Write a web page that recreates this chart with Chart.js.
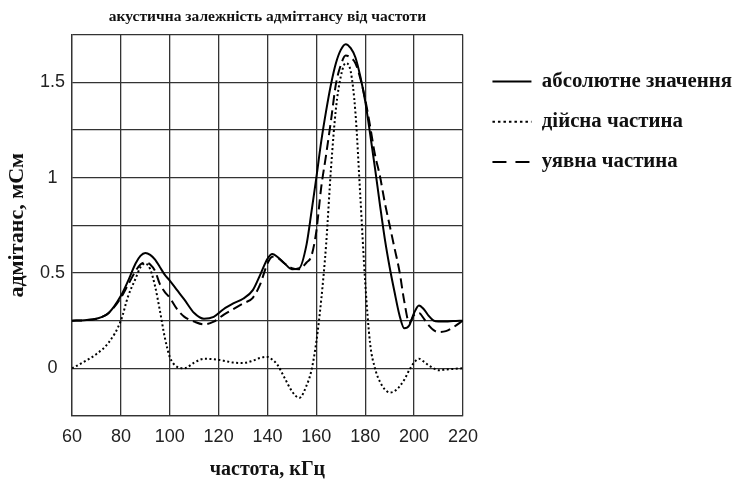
<!DOCTYPE html>
<html>
<head>
<meta charset="utf-8">
<script src="https://cdn.jsdelivr.net/npm/chart.js@4/dist/chart.umd.min.js"></script>
<style>
  body { margin: 0; background: #fff; }
</style>
</head>
<body>
<canvas id="chart" width="735" height="480"></canvas>
<script>

// frequency points, kHz
var freq = [60, 65, 70, 75, 80, 83, 86, 88, 90, 92, 94, 96, 98, 100, 103, 106, 110, 114, 118, 122,
	126, 130, 134, 137, 140, 142, 144, 147, 150, 153, 156, 158, 160, 162, 164, 166, 168, 170, 172, 174,
	176, 178, 180, 182, 184, 186, 188, 190, 192, 194, 196, 198, 200, 202, 204, 206, 208, 210, 213, 216, 220];

// абсолютне значення
var absValues = [0.25, 0.252, 0.26, 0.29, 0.38, 0.46, 0.55, 0.59, 0.605, 0.595, 0.57, 0.53, 0.49, 0.46, 0.41, 0.36, 0.29, 0.26, 0.27, 0.31,
	0.34, 0.365, 0.41, 0.49, 0.575, 0.60, 0.585, 0.55, 0.52, 0.525, 0.65, 0.82, 1.0, 1.19, 1.35, 1.49, 1.60, 1.67, 1.70, 1.68,
	1.63, 1.53, 1.40, 1.23, 1.05, 0.86, 0.68, 0.53, 0.40, 0.28, 0.21, 0.225, 0.29, 0.33, 0.31, 0.275, 0.25, 0.245, 0.245, 0.248, 0.25];

// дійсна частина
var realValues = [0.0, 0.035, 0.075, 0.135, 0.25, 0.38, 0.47, 0.53, 0.55, 0.52, 0.43, 0.30, 0.16, 0.06, 0.008, 0.0, 0.03, 0.05, 0.048, 0.04,
	0.03, 0.028, 0.04, 0.055, 0.06, 0.045, 0.02, -0.05, -0.12, -0.155, -0.09, -0.01, 0.14, 0.36, 0.65, 1.05, 1.36, 1.53, 1.60, 1.56,
	1.34, 0.90, 0.45, 0.13, 0.0, -0.07, -0.11, -0.127, -0.12, -0.096, -0.06, -0.01, 0.03, 0.05, 0.035, 0.015, 0.0, -0.01, -0.006, -0.003, 0.0];

// уявна частина
var imagValues = [0.25, 0.252, 0.26, 0.29, 0.37, 0.44, 0.51, 0.545, 0.555, 0.545, 0.51, 0.44, 0.40, 0.37, 0.31, 0.27, 0.245, 0.23, 0.245, 0.28,
	0.31, 0.34, 0.37, 0.44, 0.55, 0.585, 0.58, 0.55, 0.525, 0.52, 0.555, 0.59, 0.72, 0.95, 1.12, 1.30, 1.49, 1.59, 1.64, 1.63,
	1.60, 1.52, 1.41, 1.27, 1.12, 1.01, 0.87, 0.75, 0.63, 0.51, 0.35, 0.24, 0.28, 0.29, 0.26, 0.225, 0.20, 0.19, 0.195, 0.215, 0.25];

var seriesNames = ['абсолютне значення', 'дійсна частина', 'уявна частина'];
var yLabeled = [0, 0.5, 1, 1.5];

var serif = "'Liberation Serif', 'Times New Roman', serif";
var sans = "'Liberation Sans', Arial, sans-serif";

function points(values){
	return freq.map(function(f, i){ return {x: f, y: values[i]}; });
}

// dash patterns for the legend samples (a bit longer than on the plot)
var legendDash = [[], [2.5, 3], [14, 9]];

var chart = new Chart(document.getElementById('chart'), {
	type: 'line',
	data: {
		datasets: [
			{
				label: seriesNames[0],
				data: points(absValues),
				borderColor: '#000',
				borderWidth: 2,
				pointRadius: 0,
				cubicInterpolationMode: 'monotone'
			},
			{
				label: seriesNames[1],
				data: points(realValues),
				borderColor: '#000',
				borderWidth: 2,
				borderDash: [2, 2.5],
				pointRadius: 0,
				cubicInterpolationMode: 'monotone'
			},
			{
				label: seriesNames[2],
				data: points(imagValues),
				borderColor: '#000',
				borderWidth: 2,
				borderDash: [10, 5],
				pointRadius: 0,
				cubicInterpolationMode: 'monotone'
			}
		]
	},
	options: {
		responsive: false,
		animation: false,
		devicePixelRatio: 1,
		layout: { padding: { right: -7 } },
		scales: {
			x: {
				type: 'linear',
				min: 60,
				max: 220,
				ticks: {
					stepSize: 20,
					padding: 12,
					color: '#222',
					font: { family: sans, size: 18, lineHeight: 1 }
				},
				grid: { color: '#333', lineWidth: 1.3, drawTicks: false },
				border: { color: '#333', width: 1.3 },
				title: {
					display: true,
					text: 'частота, кГц',
					color: '#111',
					font: { family: serif, size: 20, weight: 'bold', lineHeight: 1 },
					padding: { top: 2, bottom: 0 }
				}
			},
			y: {
				min: -0.25,
				max: 1.75,
				ticks: {
					stepSize: 0.25,
					padding: 7,
					color: '#222',
					crossAlign: 'center',
					font: { family: sans, size: 18 },
					callback: function(v){
						return yLabeled.indexOf(v) >= 0 ? String(v) : '';
					}
				},
				grid: { color: '#333', lineWidth: 1.3, drawTicks: false },
				border: { color: '#333', width: 1.3 },
				title: {
					display: true,
					text: 'адмітанс, мСм',
					color: '#111',
					font: { family: serif, size: 22, weight: 'bold' },
					padding: { top: 4, bottom: 2.6 }
				}
			},
			// empty spacer between plot and legend
			gap: {
				type: 'linear',
				position: 'right',
				display: true,
				grid: { display: false },
				ticks: { display: false },
				border: { display: false },
				afterFit: function(scale){ scale.width = 10; }
			}
		},
		plugins: {
			title: {
				display: true,
				fullSize: false,
				text: 'акустична залежність адміттансу від частоти',
				color: '#111',
				font: { family: serif, size: 15.5, weight: 'bold' },
				padding: { top: 8, bottom: 8 }
			},
			legend: {
				position: 'right',
				align: 'start',
				fullSize: false,
				maxWidth: 300,
				title: {
					display: true,
					text: '',
					font: { size: 10 },
					padding: { top: 5, bottom: 0 }
				},
				labels: {
					usePointStyle: true,
					pointStyle: 'line',
					pointStyleWidth: 39,
					padding: 19.5,
					color: '#111',
					font: { family: serif, size: 20.8, weight: 'bold' },
					generateLabels: function(chart){
						var items = Chart.defaults.plugins.legend.labels.generateLabels(chart);
						items.forEach(function(item, i){
							item.lineDash = legendDash[i];
							item.lineWidth = 2;
						});
						return items;
					}
				}
			},
			tooltip: { enabled: false }
		}
	}
});

</script>
</body>
</html>
